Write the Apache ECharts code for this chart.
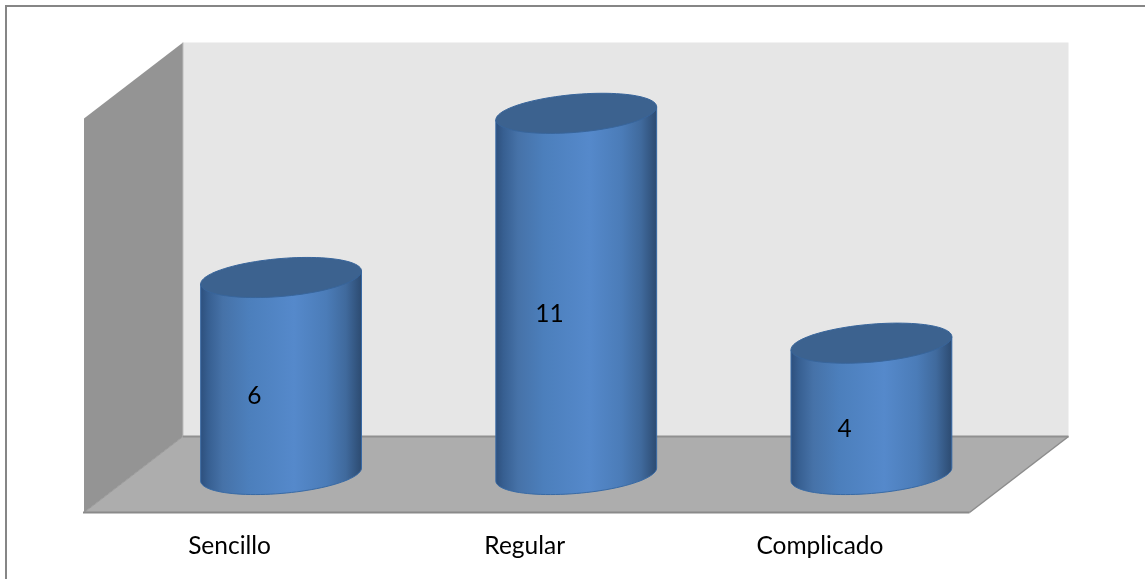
<!DOCTYPE html>
<html>
<head>
<meta charset="utf-8">
<style>html,body{margin:0;padding:0;background:#fff}#chart{width:1145px;height:579px}</style>
<script src="https://cdn.jsdelivr.net/npm/echarts@6/dist/echarts.min.js"></script>
</head>
<body>
<div id="chart"></div>
<script>
const categories = ['Sencillo', 'Regular', 'Complicado'];
const values = [6, 11, 4];

// Oblique projection of the chart box: half-depth offset of the mid plane
const DEPTH_X = 49.5;
const DEPTH_Y = 38;
// Cylinder proportions relative to the category band
const RADIUS_RATIO = 0.2724;
const MINOR_RATIO = 0.236;
const TILT_RATIO = 0.081;

const FONT = 'Lato, "Open Sans", sans-serif';

// Sheared ellipse points from angle t0 to t1
function arc(cx, cy, a, t0, t1, steps) {
  const b = a * MINOR_RATIO, s = a * TILT_RATIO, pts = [];
  for (let i = 0; i <= steps; i++) {
    const t = t0 + (t1 - t0) * i / steps;
    pts.push([cx + a * Math.cos(t), cy + b * Math.sin(t) - s * Math.cos(t)]);
  }
  return pts;
}

function renderBox(params) {
  const c = params.coordSys;
  const x0 = c.x, x1 = c.x + c.width, y0 = c.y, y1 = c.y + c.height;
  const dx = DEPTH_X, dy = DEPTH_Y;
  const backL = x0 + dx, backR = x1 + dx, backT = y0 - dy, backB = y1 - dy;
  const frontL = x0 - dx, frontR = x1 - dx, frontT = y0 + dy, frontB = y1 + dy;
  const poly = (points, fill) => ({ type: 'polygon', shape: { points }, style: { fill } });
  const line = (a, b, stroke, lineWidth) => ({
    type: 'line',
    shape: { x1: a[0], y1: a[1], x2: b[0], y2: b[1] },
    style: { stroke, lineWidth }
  });
  return {
    type: 'group',
    children: [
      poly([[backL, backT], [backR, backT], [backR, backB], [backL, backB]], '#e6e6e6'),
      poly([[frontL, frontT], [backL, backT], [backL, backB], [frontL, frontB]], '#949494'),
      poly([[frontL, frontB], [backL, backB], [backR, backB], [frontR, frontB]], '#adadad'),
      line([backL, backT], [backL, backB], '#bdbdbd', 1),
      line([frontL, frontB], [backL, backB], '#9a9a9a', 1),
      line([backL, backB], [backR, backB], '#909090', 2),
      line([backR, backB], [frontR, frontB], '#8c8c8c', 1.5),
      line([frontL - 1, frontB], [frontR, frontB], '#8a8a8a', 2)
    ]
  };
}

function renderCylinder(params, api) {
  const base = api.coord([api.value(0), 0]);
  const top = api.coord([api.value(0), api.value(1)]);
  const a = api.size([1, 0])[0] * RADIUS_RATIO;
  const cx = base[0];
  const lowerEdge = arc(cx, base[1], a, Math.PI, 0, 48);
  const body = [[cx - a, top[1] + a * TILT_RATIO]].concat(lowerEdge, [[cx + a, top[1] - a * TILT_RATIO]]);
  return {
    type: 'group',
    children: [
      {
        type: 'polygon',
        shape: { points: body },
        style: {
          stroke: '#386aa5',
          lineWidth: 1,
          fill: new echarts.graphic.LinearGradient(0, 0, 1, 0, [
            { offset: 0, color: '#2d4f7c' },
            { offset: 0.05, color: '#375f91' },
            { offset: 0.14, color: '#4672a8' },
            { offset: 0.3, color: '#4c7fbc' },
            { offset: 0.58, color: '#5589cb' },
            { offset: 0.78, color: '#4b7cb8' },
            { offset: 0.9, color: '#406a9d' },
            { offset: 1, color: '#2c4a70' }
          ])
        }
      },
      {
        type: 'polygon',
        shape: { points: arc(cx, top[1], a, 0, Math.PI * 2, 96) },
        style: { fill: '#3c628f', stroke: '#38659b', lineWidth: 1 }
      },
      {
        type: 'text',
        style: {
          x: cx - DEPTH_X / 2 - 2,
          y: (base[1] + top[1]) / 2 + 20,
          text: String(api.value(1)),
          fill: '#000',
          font: '24.5px ' + FONT,
          align: 'center',
          verticalAlign: 'middle'
        }
      }
    ]
  };
}

const chart = echarts.init(document.getElementById('chart'), null, { renderer: 'canvas' });
chart.setOption({
  animation: false,
  backgroundColor: '#fff',
  graphic: [{
    type: 'rect',
    shape: { x: 6, y: 6, width: 1300, height: 700 },
    style: { fill: 'none', stroke: '#868686', lineWidth: 2 },
    z: 0
  }],
  grid: { left: 133.5, top: 80.5, width: 885.5, height: 394 },
  xAxis: {
    type: 'category',
    data: categories,
    axisLine: { show: false },
    axisTick: { show: false },
    axisLabel: {
      margin: 59,
      color: '#000',
      fontFamily: FONT,
      fontSize: 24.5,
      padding: [0, DEPTH_X * 2 + 4, 0, 0]
    }
  },
  yAxis: { type: 'value', min: 0, max: 12, show: false },
  series: [
    { type: 'custom', renderItem: renderBox, data: [0], silent: true, z: 1, clip: false },
    {
      type: 'custom',
      renderItem: renderCylinder,
      data: values.map((v, i) => [i, v]),
      encode: { x: 0, y: 1 },
      z: 2,
      clip: false
    }
  ]
});
</script>
</body>
</html>
